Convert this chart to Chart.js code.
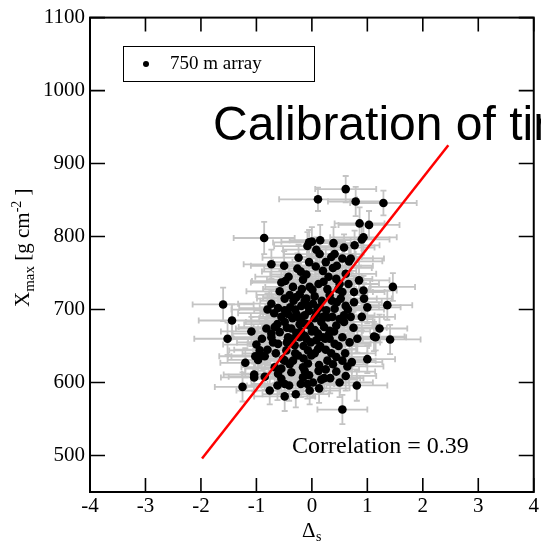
<!DOCTYPE html>
<html lang="en">
<head>
    <meta charset="UTF-8">
    <title>Xmax vs Delta_s</title>
    <script src="https://cdn.jsdelivr.net/npm/chart.js"></script>
    <style>
        body { margin: 0; background: #fff; }
        canvas { display: block; }
    </style>
</head>
<body>
    <canvas id="xmaxChart" width="541" height="543"></canvas>

    <script>
        // Delta_s of each event
        const xVals = [
            0.61, 0.11, 0.79, 1.29, 0.86, 1.03, 0.93, 0.90, -0.05, 0.00,
            -0.08, 0.39, 0.58, 0.77, 0.08, 0.14, 0.41, 0.35, 0.70, -0.86,
            -0.24, -0.73, -0.26, -0.20, -0.55, -0.48, -0.34, -0.16, -0.22, -0.28,
            -0.49, -1.60, -0.73, -0.61, -0.39, -0.19, -1.44, -0.43, -0.28, -0.49,
            -0.82, -0.67, -1.09, -1.52, -0.73, -0.58, -0.37, -0.22, -1.00, -1.02,
            -0.97, -0.91, -1.20, -1.04, -1.04, -1.25, -0.85, -0.80, -0.94, -0.76,
            -0.49, -0.29, -0.41, -0.61, -0.55, -0.67, -0.73, -0.61, -0.85, -0.37,
            -0.34, -0.25, -0.16, -0.49, -0.46, -0.31, -0.16, -0.22, 1.15, 1.41,
            1.00, 0.55, 0.44, 0.64, 0.13, 0.44, 0.61, 0.33, 0.17, 0.13,
            0.81, 0.55, -0.07, -0.13, -0.01, -0.07, 0.11, 0.08, 0.32, 0.41,
            0.20, -0.10, 0.55, 0.67, 0.07, 0.38, 0.20, 0.44, 0.61, 0.21,
            0.50, 1.46, 0.93, 0.76, 0.01, 0.05, 0.55, 0.94, 1.36, 1.00,
            -0.10, -0.07, 0.02, 0.14, 0.26, 0.41, 0.61, 0.76, 0.29, 0.50,
            0.58, 0.08, -0.13, 0.17, -0.04, 0.44, 0.58, 1.22, 1.12, 0.32,
            0.11, -0.13, -0.49, -0.43, -0.55, -0.49, -0.04, -0.19, -0.13, -0.04,
            -0.30, -0.05, 0.05, -0.20, -0.10, 0.22, 0.30, -0.35, -0.55, -0.62,
            0.15, 0.25, -0.45, 0.35, 0.05, -0.15, -0.25, 0.00, 0.18, 0.32,
            -0.40, 0.45, 0.40, -0.02, 0.48, 0.28, -0.30, -0.52, 0.12, 0.22,
            -0.08, -0.65, -0.70, 0.60, 0.70, 0.65, 0.82, 0.75, 0.48, 0.30,
            -0.42, -0.10, 0.12, 0.28, -0.18, 0.36, -0.33, 0.52, -0.58, 0.66,
            -0.68, 0.05, 0.24, -0.28, 0.37, 0.68, -0.05, 0.25, -0.40, 0.50,
            -0.20, 0.02, -0.62, 0.38, 0.72, -0.15, 0.20, -0.45, 0.10, -0.35,
            0.85, 0.90, -0.80, -0.90, 0.55, 0.25, -0.05, 0.15, -0.50, 0.45
        ];
        // Xmax [g cm^-2]
        const yVals = [
            865, 851, 848, 846, 818, 816, 799, 796, 792, 793,
            787, 791, 785, 788, 782, 776, 776, 772, 770, 798,
            771, 762, 756, 752, 737, 739, 731, 741, 721, 717,
            715, 707, 708, 702, 703, 705, 685, 694, 694, 683,
            674, 676, 670, 660, 667, 669, 674, 680, 652, 636,
            631, 637, 627, 611, 607, 594, 608, 645, 644, 589,
            581, 584, 596, 612, 605, 621, 662, 653, 636, 614,
            630, 637, 621, 630, 644, 651, 607, 662, 662, 659,
            632, 630, 635, 622, 624, 615, 609, 606, 604, 592,
            596, 563, 626, 616, 637, 644, 646, 658, 660, 653,
            662, 660, 662, 766, 759, 757, 753, 742, 749, 738,
            735, 731, 726, 724, 727, 718, 724, 715, 706, 703,
            715, 705, 708, 703, 699, 701, 705, 710, 689, 687,
            692, 694, 692, 683, 678, 678, 683, 674, 663, 671,
            667, 664, 699, 662, 619, 598, 589, 685, 712, 731,
            700, 698, 688, 670, 680, 676, 665, 660, 690, 680,
            650, 645, 675, 640, 640, 650, 690, 670, 712, 720,
            720, 710, 670, 655, 650, 630, 640, 632, 616, 606,
            598, 640, 655, 640, 690, 700, 660, 675, 728, 745,
            745, 748, 735, 728, 728, 712, 712, 715, 725, 735,
            695, 672, 660, 668, 690, 655, 610, 618, 625, 600,
            598, 600, 596, 625, 628, 633, 690, 655, 700, 688,
            740, 690, 700, 660, 770, 765, 765, 795, 760, 760
        ];
        const xErr = [
            0.55, 0.70, 0.50, 0.60, 0.45, 0.55, 0.60, 0.50, 0.65, 0.55,
            0.60, 0.50, 0.55, 0.45, 0.60, 0.65, 0.50, 0.55, 0.60, 0.55,
            0.65, 0.50, 0.60, 0.70, 0.55, 0.60, 0.50, 0.65, 0.55, 0.60,
            0.50, 0.55, 0.60, 0.70, 0.55, 0.65, 0.60, 0.50, 0.60, 0.70,
            0.55, 0.65, 0.55, 0.60, 0.70, 0.50, 0.60, 0.55, 0.60, 0.65,
            0.55, 0.60, 0.45, 0.55, 0.60, 0.50, 0.65, 0.60, 0.55, 0.60,
            0.55, 0.60, 0.50, 0.65, 0.55, 0.60, 0.70, 0.55, 0.60, 0.50,
            0.65, 0.60, 0.55, 0.70, 0.60, 0.55, 0.60, 0.65, 0.55, 0.55,
            0.50, 0.60, 0.55, 0.65, 0.60, 0.70, 0.55, 0.60, 0.65, 0.55,
            0.55, 0.45, 0.60, 0.65, 0.55, 0.60, 0.70, 0.55, 0.60, 0.65,
            0.60, 0.55, 0.65, 0.60, 0.55, 0.70, 0.60, 0.65, 0.55, 0.60,
            0.55, 0.40, 0.60, 0.55, 0.65, 0.60, 0.55, 0.50, 0.45, 0.60,
            0.60, 0.65, 0.55, 0.60, 0.70, 0.55, 0.60, 0.50, 0.65, 0.60,
            0.55, 0.60, 0.65, 0.55, 0.60, 0.65, 0.55, 0.50, 0.55, 0.60,
            0.65, 0.60, 0.55, 0.60, 0.65, 0.60, 0.55, 0.65, 0.60, 0.55,
            0.60, 0.65, 0.55, 0.60, 0.65, 0.55, 0.60, 0.70, 0.55, 0.60,
            0.65, 0.55, 0.60, 0.65, 0.55, 0.60, 0.55, 0.65, 0.60, 0.55,
            0.60, 0.55, 0.65, 0.60, 0.55, 0.65, 0.60, 0.55, 0.60, 0.65,
            0.55, 0.60, 0.65, 0.55, 0.60, 0.65, 0.55, 0.60, 0.55, 0.60,
            0.60, 0.65, 0.55, 0.60, 0.70, 0.55, 0.60, 0.65, 0.60, 0.55,
            0.65, 0.60, 0.55, 0.70, 0.60, 0.55, 0.65, 0.60, 0.55, 0.60,
            0.60, 0.65, 0.55, 0.60, 0.55, 0.65, 0.60, 0.70, 0.55, 0.60,
            0.55, 0.60, 0.65, 0.60, 0.55, 0.60, 0.65, 0.55, 0.60, 0.65
        ];
        const yErr = [
            18, 16, 20, 17, 22, 19, 18, 21, 17, 20,
            19, 22, 18, 20, 17, 21, 19, 18, 20, 22,
            18, 20, 21, 19, 17, 20, 22, 18, 19, 21,
            20, 23, 19, 18, 21, 20, 22, 19, 18, 20,
            21, 19, 20, 22, 18, 20, 19, 21, 20, 18,
            19, 21, 20, 22, 19, 20, 18, 21, 20, 19,
            20, 18, 21, 19, 20, 22, 19, 20, 18, 21,
            19, 20, 22, 18, 21, 20, 19, 22, 18, 20,
            19, 21, 20, 18, 22, 19, 20, 21, 18, 20,
            21, 20, 19, 22, 18, 20, 21, 19, 20, 18,
            20, 22, 19, 18, 21, 20, 19, 22, 20, 18,
            21, 19, 20, 22, 18, 20, 19, 21, 20, 22,
            19, 21, 20, 18, 22, 19, 20, 21, 18, 20,
            21, 20, 19, 22, 18, 20, 21, 19, 20, 18,
            20, 22, 19, 18, 21, 20, 19, 22, 20, 18,
            21, 19, 20, 22, 18, 20, 19, 21, 20, 22,
            19, 21, 20, 18, 22, 19, 20, 21, 18, 20,
            21, 20, 19, 22, 18, 20, 21, 19, 20, 18,
            20, 22, 19, 18, 21, 20, 19, 22, 20, 18,
            19, 20, 21, 18, 22, 20, 19, 21, 20, 18,
            21, 19, 20, 22, 18, 21, 20, 19, 22, 20,
            18, 21, 20, 19, 22, 18, 20, 21, 19, 20,
            20, 19, 22, 21, 18, 20, 19, 21, 20, 22
        ];
        // fitted line end points
        const fitX = [-1.98, 2.46];
        const fitY = [496, 925];

        const xTicks = [-4, -3, -2, -1, 0, 1, 2, 3, 4];
        const yTicks = [500, 600, 700, 800, 900, 1000, 1100];

        const legendLabel = '750 m array';
        const corrText = 'Correlation = 0.39';
        const overlayText = 'Calibration of time';

        const SERIF = '"Liberation Serif", "Times New Roman", serif';
        const SANS = '"Liberation Sans", Arial, sans-serif';

        // gray error bars, drawn under the points
        const errorBars = {
            id: 'errorBars',
            beforeDatasetsDraw(chart) {
                const { ctx, scales: { x, y } } = chart;
                ctx.save();
                ctx.strokeStyle = '#c4c4c4';
                ctx.lineWidth = 1.8;
                const cap = 3;
                xVals.forEach((v, i) => {
                    const px = x.getPixelForValue(v);
                    const py = y.getPixelForValue(yVals[i]);
                    const x0 = x.getPixelForValue(v - xErr[i]);
                    const x1 = x.getPixelForValue(v + xErr[i]);
                    const y0 = y.getPixelForValue(yVals[i] - yErr[i]);
                    const y1 = y.getPixelForValue(yVals[i] + yErr[i]);
                    ctx.beginPath();
                    ctx.moveTo(x0, py); ctx.lineTo(x1, py);
                    ctx.moveTo(x0, py - cap); ctx.lineTo(x0, py + cap);
                    ctx.moveTo(x1, py - cap); ctx.lineTo(x1, py + cap);
                    ctx.moveTo(px, y0); ctx.lineTo(px, y1);
                    ctx.moveTo(px - cap, y0); ctx.lineTo(px + cap, y0);
                    ctx.moveTo(px - cap, y1); ctx.lineTo(px + cap, y1);
                    ctx.stroke();
                });
                ctx.restore();
            }
        };

        // frame, inward ticks, legend box, texts
        const decorations = {
            id: 'decorations',
            afterDraw(chart) {
                const { ctx, chartArea: a, scales: { x, y } } = chart;
                ctx.save();
                ctx.strokeStyle = '#000';
                ctx.lineWidth = 1.6;
                ctx.beginPath();
                xTicks.forEach(v => {
                    const px = x.getPixelForValue(v);
                    ctx.moveTo(px, a.bottom); ctx.lineTo(px, a.bottom - 14);
                    ctx.moveTo(px, a.top); ctx.lineTo(px, a.top + 14);
                });
                yTicks.forEach(v => {
                    const py = y.getPixelForValue(v);
                    ctx.moveTo(a.left, py); ctx.lineTo(a.left + 15, py);
                    ctx.moveTo(a.right, py); ctx.lineTo(a.right - 15, py);
                });
                ctx.stroke();
                ctx.lineWidth = 2;
                ctx.strokeRect(a.left, a.top, a.right - a.left, a.bottom - a.top);

                // legend
                ctx.lineWidth = 1;
                ctx.strokeRect(123.5, 46.5, 191, 35);
                ctx.fillStyle = '#000';
                ctx.beginPath();
                ctx.arc(146, 64, 3, 0, Math.PI * 2);
                ctx.fill();
                ctx.font = '19px ' + SERIF;
                ctx.textBaseline = 'alphabetic';
                ctx.textAlign = 'left';
                ctx.fillText(legendLabel, 170, 69);

                // big overlay text
                ctx.font = '48px ' + SANS;
                ctx.fillText(overlayText, 213, 140);

                // correlation note
                ctx.font = '24px ' + SERIF;
                ctx.fillText(corrText, 292, 453);

                // x title: Delta_s
                ctx.font = '21px ' + SERIF;
                ctx.fillText('\u0394', 302, 537);
                ctx.font = '14px ' + SERIF;
                ctx.fillText('s', 316, 541);

                // y title: X_max [g cm^-2 ]
                ctx.translate(29, 307);
                ctx.rotate(-Math.PI / 2);
                let cx = 0;
                const part = (t, size, dy) => {
                    ctx.font = size + 'px ' + SERIF;
                    ctx.fillText(t, cx, dy);
                    cx += ctx.measureText(t).width;
                };
                part('X', 21, 0);
                part('max', 15, 5);
                part(' [g cm', 21, 0);
                part('-2', 14, -8);
                part(' ]', 21, 0);
                ctx.restore();
            }
        };

        const tickFont = { family: SERIF, size: 21 };

        new Chart(document.getElementById('xmaxChart'), {
            type: 'scatter',
            data: {
                datasets: [
                    {
                        type: 'line',
                        data: fitX.map((v, i) => ({ x: v, y: fitY[i] })),
                        borderColor: '#ff0000',
                        borderWidth: 2.5,
                        pointRadius: 0,
                        fill: false,
                        order: 0
                    },
                    {
                        label: legendLabel,
                        data: xVals.map((v, i) => ({ x: v, y: yVals[i] })),
                        backgroundColor: '#000',
                        borderWidth: 0,
                        pointRadius: 4.3,
                        order: 1
                    }
                ]
            },
            options: {
                responsive: false,
                devicePixelRatio: 1,
                animation: false,
                layout: { padding: { top: 17, right: 4, left: 0, bottom: 0 } },
                plugins: { legend: { display: false }, tooltip: { enabled: false } },
                scales: {
                    x: {
                        type: 'linear',
                        min: -4,
                        max: 4,
                        afterBuildTicks: s => { s.ticks = xTicks.map(v => ({ value: v })); },
                        afterFit: s => { s.height = 51; },
                        grid: { display: false, drawTicks: false },
                        border: { display: false },
                        ticks: { font: tickFont, color: '#000', padding: 2, maxRotation: 0, callback: v => String(v) }
                    },
                    y: {
                        min: 450,
                        max: 1100,
                        afterBuildTicks: s => { s.ticks = yTicks.map(v => ({ value: v })); },
                        afterFit: s => { s.width = 90; },
                        grid: { display: false, drawTicks: false },
                        border: { display: false },
                        ticks: { font: tickFont, color: '#000', padding: 5, callback: v => String(v) }
                    }
                }
            },
            plugins: [errorBars, decorations]
        });
    </script>
</body>
</html>
